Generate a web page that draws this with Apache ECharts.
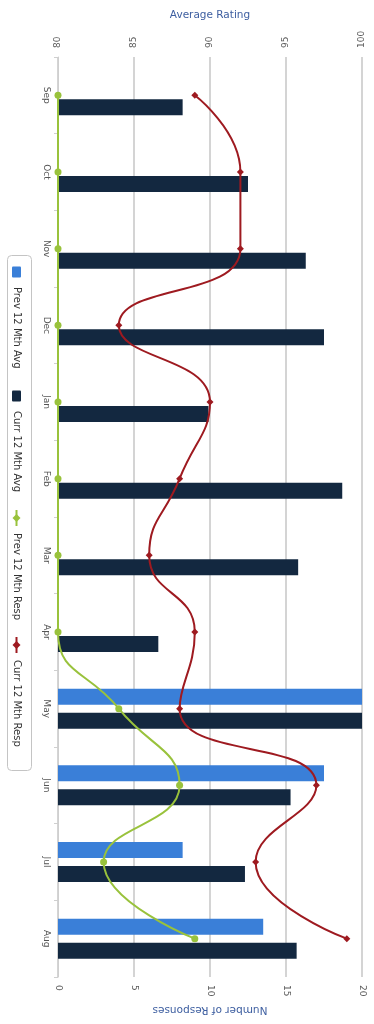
<!DOCTYPE html>
<html>
<head>
<meta charset="utf-8">
<script src="https://cdn.jsdelivr.net/npm/echarts@6/dist/echarts.min.js"></script>
<style>
html,body{margin:0;padding:0;background:#fff;}
#chart{width:374px;height:1024px;}
</style>
</head>
<body>
<div id="chart"></div>
<script>
const months = ['Sep','Oct','Nov','Dec','Jan','Feb','Mar','Apr','May','Jun','Jul','Aug'];
const prevAvg = [null,null,null,null,null,null,null,null,100,97.5,88.2,93.5];
const currAvg = [88.2,92.5,96.3,97.5,89.9,98.7,95.8,86.6,100,95.3,92.3,95.7];
const prevResp = [0,0,0,0,0,0,0,0,4,8,3,9];
const currResp = [9,12,12,4,10,8,6,9,8,17,13,19];
const seriesNames = ['Prev 12 Mth Avg','Curr 12 Mth Avg','Prev 12 Mth Resp','Curr 12 Mth Resp'];
const ratingAxis = {name:'Average Rating', min:80, max:100, interval:5};
const respAxis = {name:'Number of Responses', min:0, max:20, interval:5};

const colors = ['#3a7fd8','#132840','#99c23c','#9e1a20'];
const FONT = 'DejaVu Sans';

const chart = echarts.init(document.getElementById('chart'));

// legend built as rotated graphic items
const legendMarkY = [272, 396, 518, 645];
const legendGraphic = [{
  type:'rect', shape:{x:7.5, y:255.5, width:24, height:515, r:4},
  style:{fill:'#fff', stroke:'#c4c4c4', lineWidth:1}, z:10
}];
seriesNames.forEach((n,i)=>{
  const cy = legendMarkY[i];
  if(i<2){
    legendGraphic.push({type:'rect', shape:{x:12, y:cy-5.5, width:9, height:11, r:1},
      style:{fill:colors[i]}, z:11});
  } else {
    legendGraphic.push({type:'line', shape:{x1:16.5, y1:cy-8, x2:16.5, y2:cy+8},
      style:{stroke:colors[i], lineWidth:2}, z:11});
    legendGraphic.push({type:'polygon', shape:{points:[[16.5,cy-4],[20.5,cy],[16.5,cy+4],[12.5,cy]]},
      style:{fill:colors[i]}, z:12});
  }
  legendGraphic.push({type:'text', x:17, y:cy+15, rotation:-Math.PI/2, z:11,
    style:{text:n, fill:'#333', font:'10px "'+FONT+'"', textAlign:'left', textVerticalAlign:'middle'}});
});

chart.setOption({
  animation:false,
  textStyle:{fontFamily:FONT},
  grid:{left:58, right:12, top:57, bottom:47, containLabel:false},
  xAxis:[{
    type:'value', position:'top', min:ratingAxis.min, max:ratingAxis.max, interval:ratingAxis.interval,
    startValue:ratingAxis.min,
    name:ratingAxis.name, nameLocation:'middle', nameGap:36,
    nameTextStyle:{color:'#3d5ea0', fontSize:10.5, fontFamily:FONT},
    axisLine:{show:false}, axisTick:{show:false},
    axisLabel:{rotate:-90, margin:9, color:'#5a5a5a', fontSize:9, fontFamily:FONT},
    splitLine:{show:true, lineStyle:{color:'#d4d4d4', width:2}}
  },{
    type:'value', position:'bottom', min:respAxis.min, max:respAxis.max, interval:respAxis.interval,
    name:respAxis.name, nameLocation:'middle', nameGap:27, nameRotate:180,
    nameTextStyle:{color:'#3d5ea0', fontSize:10.5, fontFamily:FONT},
    axisLine:{show:false}, axisTick:{show:false},
    axisLabel:{rotate:-90, margin:8, color:'#5a5a5a', fontSize:9, fontFamily:FONT},
    splitLine:{show:false}
  }],
  yAxis:{
    type:'category', data:months, inverse:true,
    axisLine:{show:true, lineStyle:{color:'#cfcfcf', width:1}},
    axisTick:{show:true, length:4, lineStyle:{color:'#cfcfcf'}},
    axisLabel:{rotate:-90, margin:7, color:'#555', fontSize:9, fontFamily:FONT},
    splitLine:{show:false}
  },
  series:[
    {name:seriesNames[0], type:'bar', xAxisIndex:0, data:prevAvg, barWidth:16, barGap:'50%',
      itemStyle:{color:colors[0]}, clip:true, z:2},
    {name:seriesNames[1], type:'bar', xAxisIndex:0, data:currAvg, barWidth:16, barGap:'50%',
      itemStyle:{color:colors[1]}, clip:true, z:2},
    {name:seriesNames[2], type:'line', xAxisIndex:1, data:prevResp, smooth:0.5,
      symbol:'circle', symbolSize:7, showSymbol:true,
      lineStyle:{color:colors[2], width:2}, itemStyle:{color:colors[2]}, z:4},
    {name:seriesNames[3], type:'line', xAxisIndex:1, data:currResp, smooth:0.5,
      symbol:'diamond', symbolSize:7, showSymbol:true,
      lineStyle:{color:colors[3], width:2}, itemStyle:{color:colors[3]}, z:5}
  ],
  graphic:legendGraphic
});
</script>
</body>
</html>
